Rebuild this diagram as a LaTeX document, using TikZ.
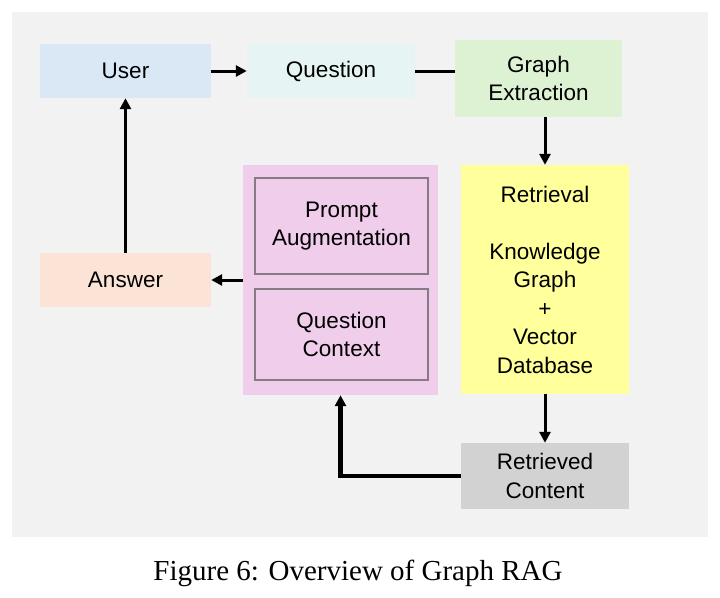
\documentclass[tikz,border=0pt]{standalone}
\usepackage{fontspec}
\setmainfont{Liberation Serif}
\newfontfamily\boxfont{Liberation Sans}
\usetikzlibrary{arrows.meta}
\definecolor{panelgray}{HTML}{F2F2F2}
\definecolor{userblue}{HTML}{DAE8F6}
\definecolor{qcyan}{HTML}{E6F4F4}
\definecolor{gegreen}{HTML}{DCF2D3}
\definecolor{retyellow}{HTML}{FFFF9C}
\definecolor{rcgray}{HTML}{D2D2D2}
\definecolor{pinkbox}{HTML}{F0CDEA}
\definecolor{innerborder}{HTML}{857A85}
\definecolor{anspeach}{HTML}{FBE4D6}
\tikzset{
  box/.style={rectangle, draw=none, inner sep=2pt, align=center,
    font=\boxfont\fontsize{22.5}{28.5}\selectfont, text=black},
  innerbox/.style={box, draw=innerborder, line width=2pt, fill=pinkbox},
  conn/.style={line width=3pt, -{Triangle[length=11pt,width=11pt]}},
  plainconn/.style={line width=3pt},
}
\begin{document}
\begin{tikzpicture}[x=1pt,y=-1pt]
\useasboundingbox (0,0) rectangle (720,597);
\fill[white] (0,0) rectangle (720,597);
\fill[panelgray] (12,12) rectangle (708,537);
\node[box, fill=userblue, minimum width=171pt, minimum height=54pt] (user) at (125.5,71) {User};
\node[box, fill=qcyan, minimum width=168pt, minimum height=54pt] (question) at (331,71) {Question};
\node[box, fill=gegreen, minimum width=167pt, minimum height=77pt] (ge) at (538.5,78.5) {Graph\\Extraction};
\node[box, fill=retyellow, minimum width=168pt, minimum height=229pt] (ret) at (545,279.5) {Retrieval\\[28.5pt]Knowledge\\Graph\\+\\Vector\\Database};
\node[box, fill=rcgray, minimum width=168pt, minimum height=66pt] (rc) at (545,476) {Retrieved\\Content};
\node[box, fill=pinkbox, minimum width=195pt, minimum height=230pt] (pink) at (340.5,280) {};
\node[innerbox, minimum width=173pt, minimum height=96pt] (pa) at (341.5,226) {Prompt\\Augmentation};
\node[innerbox, minimum width=173pt, minimum height=91pt] (qc) at (341.5,334.5) {Question\\Context};
\node[box, fill=anspeach, minimum width=171pt, minimum height=54pt] (answer) at (125.5,280) {Answer};
\node[font=\fontsize{29}{34}\selectfont] (caption) at (358,573) {Figure 6: Overview of Graph RAG};
\draw[conn] (user.east) -- (question.west);
\draw[plainconn] (question.east) -- (question.east -| ge.west);
\draw[conn] (ret.north |- ge.south) -- (ret.north);
\draw[conn] (ret.south) -- (rc.north);
\draw[conn, line width=4.5pt] (rc.west) -| (pink.south);
\draw[conn] (pink.west) -- (answer.east);
\draw[conn] (answer.north) -- (user.south);
\end{tikzpicture}
\end{document}
